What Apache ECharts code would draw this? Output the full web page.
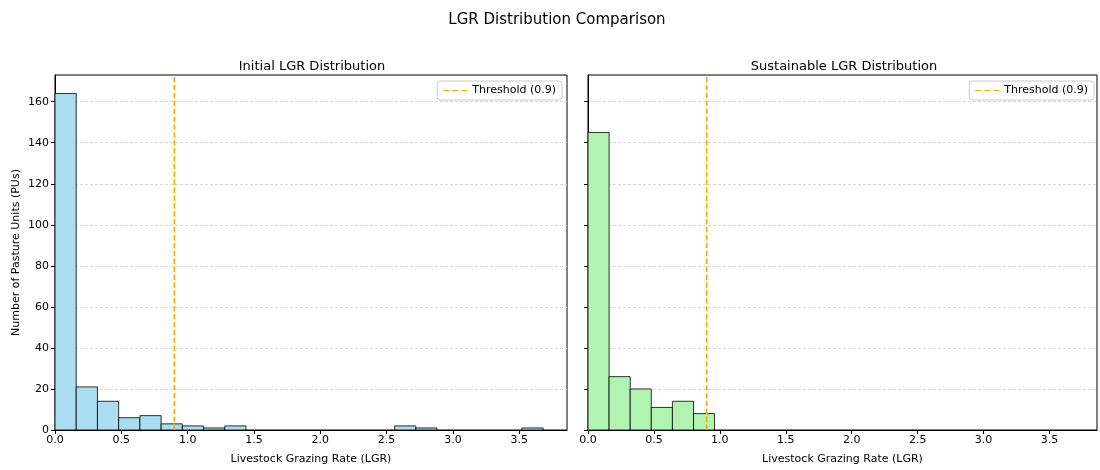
<!DOCTYPE html>
<html>
<head>
<meta charset="utf-8">
<script src="https://cdn.jsdelivr.net/npm/echarts@6/dist/echarts.min.js"></script>
<style>html,body{margin:0;padding:0;background:#fff}#c{width:1100px;height:470px}</style>
</head>
<body>
<div id="c"></div>
<script>
// ---- data ----
const binEdges = [0.00,0.16,0.32,0.48,0.64,0.80,0.96,1.12,1.28,1.44,1.60,1.76,1.92,2.08,2.24,2.40,2.56,2.72,2.88,3.04,3.20,3.36,3.52,3.68];
const initialCounts = [164,21,14,6,7,3,2,1,2,0,0,0,0,0,0,0,2,1,0,0,0,0,1];
const sustainableCounts = [145,26,20,11,14,8,0,0,0,0,0,0,0,0,0,0,0,0,0,0,0,0,0];
const threshold = 0.9;
const xTicks = [0,0.5,1.0,1.5,2.0,2.5,3.0,3.5];
const yTicks = [0,20,40,60,80,100,120,140,160];
const xMax = 3.86, yMax = 173;

function histData(counts){
  const out = [];
  for (let i = 0; i < counts.length; i++) {
    if (counts[i] > 0) out.push([binEdges[i], binEdges[i+1], counts[i]]);
  }
  return out;
}
const FONT = 'DejaVu Sans';
function renderBar(fill){
  return function(params, api){
    const p0 = api.coord([api.value(0), api.value(2)]);
    const p1 = api.coord([api.value(1), 0]);
    return {
      type: 'rect',
      shape: {x: p0[0], y: p0[1], width: p1[0]-p0[0], height: p1[1]-p0[1]},
      style: {fill: fill, stroke: 'rgba(0,0,0,0.8)', lineWidth: 1}
    };
  };
}
function xAxisOf(idx){
  return {
    type: 'value', gridIndex: idx, min: 0, max: xMax,
    name: 'Livestock Grazing Rate (LGR)', nameLocation: 'middle', nameGap: 24,
    nameTextStyle: {fontFamily: FONT, fontSize: 11, color: '#000'},
    axisLine: {show: true, lineStyle: {color: '#000', width: 1}},
    axisTick: {show: true, inside: false, length: 4, customValues: xTicks, lineStyle: {color: '#000'}},
    axisLabel: {customValues: xTicks, fontFamily: FONT, fontSize: 11, color: '#000', margin: 5,
      formatter: v => v.toFixed(1)},
    splitLine: {show: false}
  };
}
function yAxisOf(idx, labels){
  return {
    type: 'value', gridIndex: idx, min: 0, max: yMax,
    name: labels ? 'Number of Pasture Units (PUs)' : '', nameLocation: 'middle', nameGap: 33,
    nameTextStyle: {fontFamily: FONT, fontSize: 11, color: '#000'},
    axisLine: {show: true, lineStyle: {color: '#000', width: 1}},
    axisTick: {show: true, inside: false, length: 4, customValues: yTicks, lineStyle: {color: '#000'}},
    axisLabel: {show: labels, customValues: yTicks, fontFamily: FONT, fontSize: 11, color: '#000', margin: 6},
    splitLine: {show: true, lineStyle: {color: '#d9d9d9', type: [3, 2], width: 1}}
  };
}
function thresholdSeries(idx){
  return {
    type: 'line', name: 'Threshold (0.9)', xAxisIndex: idx, yAxisIndex: idx,
    data: [[threshold, 0], [threshold, yMax]], symbol: 'none', z: 5,
    itemStyle: {color: '#FFA500'},
    lineStyle: {color: '#FFA500', type: [5.5, 2.4], width: 1.6}, silent: true
  };
}
const dashIcon = 'path://M0,0H6V1H0Z M9,0H15V1H9Z M18,0H24V1H18Z';
function legendOf(right){
  return {
    data: [{name: 'Threshold (0.9)', icon: dashIcon, itemStyle: {color: '#FFA500', borderWidth: 0}}],
    right: right, top: 81, orient: 'vertical',
    itemWidth: 24, itemHeight: 2, itemGap: 4,
    padding: [4, 6, 4, 6],
    backgroundColor: '#fff', borderColor: '#cccccc', borderWidth: 1, borderRadius: 3,
    textStyle: {fontFamily: FONT, fontSize: 11, color: '#000', padding: [3, 0, 3, 0]},
    selectedMode: false
  };
}
const chart = echarts.init(document.getElementById('c'), null, {renderer: 'canvas'});
chart.setOption({
  animation: false,
  backgroundColor: '#fff',
  title: [
    {text: 'LGR Distribution Comparison', left: 552, top: 8, textAlign: 'center',
      textStyle: {fontFamily: FONT, fontSize: 15, fontWeight: 'normal', color: '#000'}},
    {text: 'Initial LGR Distribution', left: 307, top: 55, textAlign: 'center',
      textStyle: {fontFamily: FONT, fontSize: 13, fontWeight: 'normal', color: '#000'}},
    {text: 'Sustainable LGR Distribution', left: 839, top: 55, textAlign: 'center',
      textStyle: {fontFamily: FONT, fontSize: 13, fontWeight: 'normal', color: '#000'}}
  ],
  legend: [legendOf(1100-562), legendOf(1100-1094)],
  grid: [
    {left: 55, right: 1100-567, top: 75, bottom: 38, show: true, borderColor: '#000', borderWidth: 1, backgroundColor: 'transparent'},
    {left: 588, right: 3, top: 75, bottom: 38, show: true, borderColor: '#000', borderWidth: 1, backgroundColor: 'transparent'}
  ],
  xAxis: [xAxisOf(0), xAxisOf(1)],
  yAxis: [yAxisOf(0, true), yAxisOf(1, false)],
  series: [
    {type: 'custom', name: 'Initial', xAxisIndex: 0, yAxisIndex: 0, data: histData(initialCounts),
      encode: {x: [0, 1], y: 2}, renderItem: renderBar('rgb(171,221,241)'), z: 3},
    thresholdSeries(0),
    {type: 'custom', name: 'Sustainable', xAxisIndex: 1, yAxisIndex: 1, data: histData(sustainableCounts),
      encode: {x: [0, 1], y: 2}, renderItem: renderBar('rgb(177,243,177)'), z: 3},
    thresholdSeries(1)
  ]
});
</script>
</body>
</html>
